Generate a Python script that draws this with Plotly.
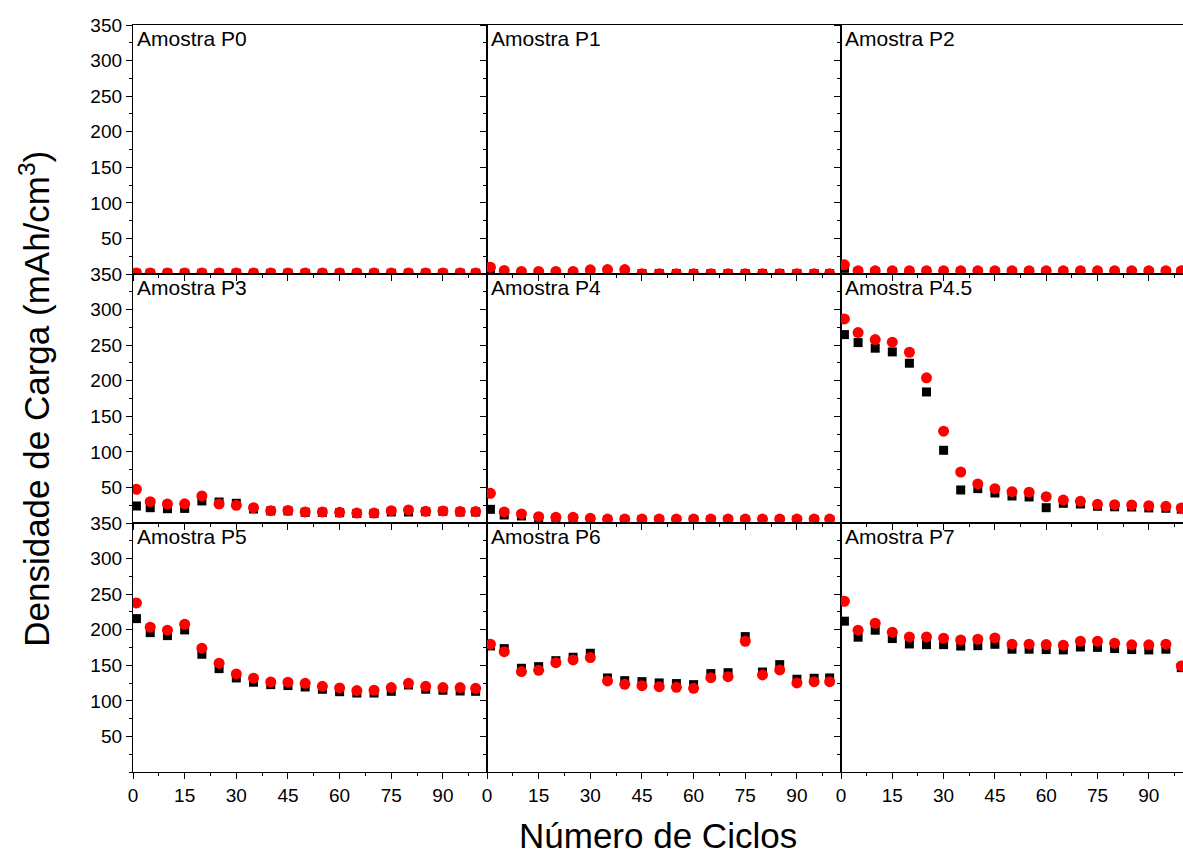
import plotly.graph_objects as go
from plotly.subplots import make_subplots

cycles = [1, 5, 10, 15, 20, 25, 30, 35, 40, 45, 50, 55, 60, 65, 70, 75, 80, 85, 90, 95, 99.5]

samples = ["Amostra P0", "Amostra P1", "Amostra P2",
           "Amostra P3", "Amostra P4", "Amostra P4.5",
           "Amostra P5", "Amostra P6", "Amostra P7"]

# black squares
sq_P0 = [1, 1, 1, 1, 1, 1, 1, 1, 1, 1, 1, 1, 1, 1, 1, 1, 1, 1, 1, 1, 1]
sq_P1 = [4, 2, 1, 1, 1, 1, 2, 2, 2, 0.5, 0.5, 0.5, 0.5, 0.5, 0.5, 0.5, 0.5, 0.5, 0.5, 0.5, 0.5]
sq_P2 = [8, 3, 3, 3, 3, 3, 3, 3, 3, 3, 3, 3, 3, 3, 3, 3, 3, 3, 3, 3, 3]
sq_P3 = [23.9, 21.5, 20.1, 20.5, 31, 29.5, 27.7, 19.7, 17, 17, 15, 15, 14.5, 13.5, 13.5, 15.5, 15.5, 16, 16.5, 15.5, 15.5]
sq_P4 = [19.2, 11.3, 9.9, 7, 6, 6, 5, 4, 4, 4, 4, 4, 4, 4, 4, 4, 4, 4, 4, 4, 4]
sq_P45 = [264.8, 253.6, 245.7, 240.5, 224.6, 184.2, 102.2, 46.4, 48.3, 42.2, 38, 36.6, 21.5, 27.7, 26.7, 23.5, 22.8, 22.5, 21.2, 20.7, 19.5]
sq_P5 = [215.6, 195.9, 191.7, 199.7, 165.5, 145.3, 132.2, 126.2, 122.8, 121.5, 119.5, 116.3, 112.9, 111, 111, 113.4, 122.3, 116.3, 114.9, 113.9, 113.4]
sq_P6 = [177.2, 173.4, 145.8, 148.1, 156.5, 161.3, 166.9, 132.2, 128.4, 127, 125.2, 124.3, 122.8, 138.3, 139.6, 190.3, 140.5, 150.9, 130.4, 131.7, 132.2]
sq_P7 = [212, 189.5, 199.3, 187.6, 180, 179, 179, 177.1, 177.6, 179.5, 172.6, 172.6, 172.1, 171.6, 175.7, 175.2, 173.5, 172.1, 171.6, 172.6, 146.7]

# red circles
ci_P0 = [1.5, 1.5, 1.5, 1.5, 1.5, 1.5, 1.5, 1.5, 1.5, 1.5, 1.5, 1.5, 1.5, 1.5, 1.5, 1.5, 1.5, 1.5, 1.5, 1.5, 1.5]
ci_P1 = [9.6, 4.9, 3.5, 3.5, 3.5, 3.5, 5.9, 6.3, 6.3, 0.5, 0.5, 0.5, 0.5, 0.5, 0.5, 0.5, 0.5, 0.5, 0.5, 0.5, 0.5]
ci_P2 = [12.9, 4.5, 4.5, 4.5, 4.5, 4.5, 4.5, 4.5, 4.5, 4.5, 4.5, 4.5, 4.5, 4.5, 4.5, 4.5, 4.5, 4.5, 4.5, 4.5, 4.5]
ci_P3 = [47.4, 30, 26.7, 27, 38, 26.7, 24.8, 21.5, 17.3, 17.6, 15.5, 15.5, 15, 14, 14, 17.3, 18.3, 16.4, 16.9, 16, 16]
ci_P4 = [41.7, 15.5, 12.7, 8.9, 8, 8, 6.6, 5.6, 5.6, 5.6, 5.6, 5.6, 5.6, 5.6, 5.6, 5.6, 5.6, 5.6, 5.6, 5.6, 5.6]
ci_P45 = [286.9, 267.7, 257.8, 254.1, 240, 204, 129, 71.7, 54.9, 48.3, 44, 43.3, 37, 32.3, 30.5, 26.3, 25.8, 25.3, 24.4, 23.5, 21.1]
ci_P5 = [237.7, 203.5, 199.3, 207.7, 174, 152.9, 137.8, 131.8, 126.6, 126.2, 124.7, 120.5, 118.1, 114.4, 114.9, 118.6, 124.7, 120.5, 118.6, 118.6, 117.6]
ci_P6 = [179.6, 169.2, 141.1, 143, 153.7, 157.5, 160.8, 128, 123.3, 121.4, 120, 119.1, 117.6, 132.6, 134, 183.8, 136.4, 143.5, 125.2, 127, 127]
ci_P7 = [240, 199.3, 209.1, 196.5, 189.9, 189.9, 188, 185.7, 186.6, 188.5, 179.6, 179.6, 179.1, 178.2, 183.8, 183.8, 181, 178.7, 178.7, 179.6, 149.1]

squares = [sq_P0, sq_P1, sq_P2, sq_P3, sq_P4, sq_P45, sq_P5, sq_P6, sq_P7]
circles = [ci_P0, ci_P1, ci_P2, ci_P3, ci_P4, ci_P45, ci_P5, ci_P6, ci_P7]

x_ticks = [0, 15, 30, 45, 60, 75, 90]
y_ticks = [50, 100, 150, 200, 250, 300, 350]

FONT = "Arial, Liberation Sans, sans-serif"

fig = make_subplots(rows=3, cols=3, horizontal_spacing=0, vertical_spacing=0,
                    column_widths=[354, 354, 342])

for i in range(9):
    r, c = i // 3 + 1, i % 3 + 1
    fig.add_trace(go.Scatter(x=cycles, y=squares[i], mode="markers",
                             marker=dict(symbol="square", size=9, color="black"),
                             showlegend=False), row=r, col=c)
    fig.add_trace(go.Scatter(x=cycles, y=circles[i], mode="markers",
                             marker=dict(symbol="circle", size=11, color="#ff0000"),
                             showlegend=False), row=r, col=c)
    xr = [0, 100] if c == 3 else [0, 102.8]
    fig.update_xaxes(range=xr, tickvals=x_ticks, ticks="outside", ticklen=6,
                     tickwidth=1.2, tickcolor="black",
                     minor=dict(dtick=7.5, tick0=0, ticks="outside", ticklen=3, tickcolor="black", tickwidth=1),
                     showline=True, linecolor="black", linewidth=1.3, mirror=True,
                     showgrid=False, zeroline=False,
                     showticklabels=(r == 3),
                     tickfont=dict(family=FONT, size=19, color="black"),
                     row=r, col=c)
    fig.update_yaxes(range=[0, 350], tickvals=y_ticks, ticks="outside", ticklen=6,
                     tickwidth=1.2, tickcolor="black",
                     minor=dict(dtick=25, tick0=0, ticks="outside", ticklen=3, tickcolor="black", tickwidth=1),
                     showline=True, linecolor="black", linewidth=1.3, mirror=True,
                     showgrid=False, zeroline=False,
                     showticklabels=(c == 1),
                     tickfont=dict(family=FONT, size=19, color="black"),
                     row=r, col=c)
    xref = "x" if i == 0 else f"x{i+1}"
    yref = "y" if i == 0 else f"y{i+1}"
    fig.add_annotation(text=samples[i], xref=f"{xref} domain", yref=f"{yref} domain",
                       x=0.006, y=0.998, xanchor="left", yanchor="top", showarrow=False,
                       font=dict(family=FONT, size=21, color="black"))

fig.add_annotation(text="Densidade de Carga (mAh/cm<sup>3</sup>)", xref="paper", yref="paper",
                   x=-0.094, y=0.5, xanchor="center", yanchor="middle", textangle=-90,
                   showarrow=False, font=dict(family=FONT, size=35, color="black"))
fig.add_annotation(text="Número de Ciclos", xref="paper", yref="paper",
                   x=0.5, y=-0.085, xanchor="center", yanchor="middle",
                   showarrow=False, font=dict(family=FONT, size=35, color="black"))

fig.update_layout(width=1183, height=861, plot_bgcolor="white", paper_bgcolor="white",
                  margin=dict(l=133, r=0, t=25, b=89),
                  font=dict(family=FONT, color="black"))

fig.write_html("out.html", config={"displayModeBar": False},
               post_script="document.body.style.margin='0';document.body.style.overflow='hidden';")
